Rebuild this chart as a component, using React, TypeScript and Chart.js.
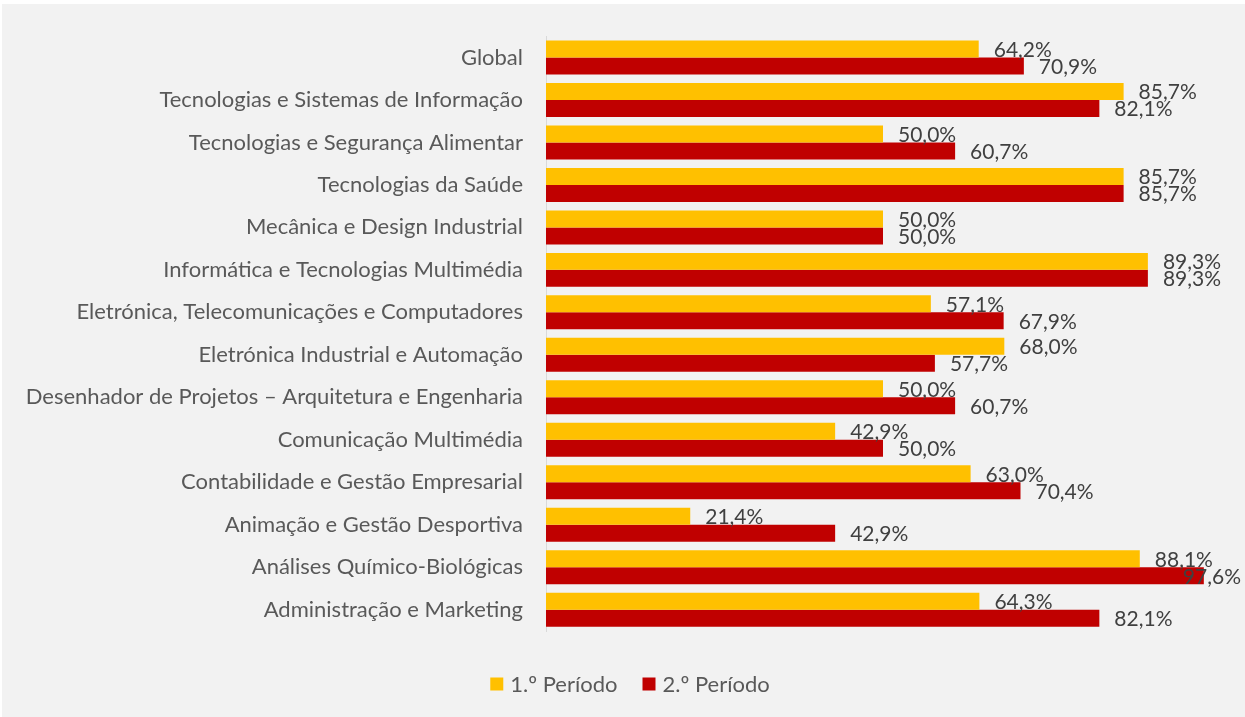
import React, { useEffect, useRef } from "react";
import { Chart, registerables } from "chart.js";

Chart.register(...registerables);

const categories = [
  "Global",
  "Tecnologias e Sistemas de Informação",
  "Tecnologias e Segurança Alimentar",
  "Tecnologias da Saúde",
  "Mecânica e Design Industrial",
  "Informática e Tecnologias Multimédia",
  "Eletrónica, Telecomunicações e Computadores",
  "Eletrónica Industrial e Automação",
  "Desenhador de Projetos – Arquitetura e Engenharia",
  "Comunicação Multimédia",
  "Contabilidade e Gestão Empresarial",
  "Animação e Gestão Desportiva",
  "Análises Químico-Biológicas",
  "Administração e Marketing",
];

const periodo1 = [64.2, 85.7, 50.0, 85.7, 50.0, 89.3, 57.1, 68.0, 50.0, 42.9, 63.0, 21.4, 88.1, 64.3];
const periodo2 = [70.9, 82.1, 60.7, 85.7, 50.0, 89.3, 67.9, 57.7, 60.7, 50.0, 70.4, 42.9, 97.6, 82.1];

const seriesNames = ["1.º Período", "2.º Período"];
const seriesColors = ["#FFC000", "#C00000"];

const FONT = "Lato, 'Open Sans', sans-serif";

const bgPlugin = {
  id: "bg",
  beforeDraw(chart: any) {
    const { ctx, width, height } = chart;
    ctx.save();
    ctx.fillStyle = "#ffffff";
    ctx.fillRect(0, 0, width, height);
    ctx.fillStyle = "#f2f2f2";
    ctx.fillRect(2, 4, width - 2, height - 4);
    ctx.restore();
  },
};

const labelPlugin = {
  id: "valueLabels",
  afterDatasetsDraw(chart: any) {
    const { ctx, width } = chart;
    ctx.save();
    ctx.font = `21px ${FONT}`;
    ctx.fillStyle = "#404040";
    ctx.textAlign = "left";
    ctx.textBaseline = "middle";
    chart.data.datasets.forEach((ds: any, di: number) => {
      const meta = chart.getDatasetMeta(di);
      meta.data.forEach((bar: any, i: number) => {
        const v = ds.data[i] as number;
        const txt = v.toFixed(1).replace(".", ",") + "%";
        const w = ctx.measureText(txt).width;
        const x = Math.min(bar.x + 15, width - 4 - w);
        ctx.fillText(txt, x, bar.y + 1);
      });
    });
    ctx.restore();
  },
};

const legendPlugin = {
  id: "customLegend",
  afterDraw(chart: any) {
    const { ctx } = chart;
    ctx.save();
    ctx.font = `22px ${FONT}`;
    ctx.textBaseline = "middle";
    ctx.textAlign = "left";
    const box = 13;
    const gapText = 7;
    const gapItem = 25;
    const names = chart.data.datasets.map((d: any) => d.label as string);
    const widths = names.map((n: string) => box + gapText + ctx.measureText(n).width);
    const total = widths.reduce((a: number, b: number) => a + b, 0) + gapItem * (names.length - 1);
    let x = 630 - total / 2;
    const cy = 684;
    names.forEach((n: string, i: number) => {
      ctx.fillStyle = chart.data.datasets[i].backgroundColor;
      ctx.fillRect(x, cy - box / 2, box, box);
      ctx.fillStyle = "#595959";
      ctx.fillText(n, x + box + gapText, cy + 1);
      x += widths[i] + gapItem;
    });
    ctx.restore();
  },
};

export default function App() {
  const ref = useRef<HTMLCanvasElement | null>(null);

  useEffect(() => {
    document.body.style.margin = "0";
    if (!ref.current) return;
    const chart = new Chart(ref.current, {
      type: "bar",
      data: {
        labels: categories,
        datasets: [
          {
            label: seriesNames[0],
            data: periodo1,
            backgroundColor: seriesColors[0],
            categoryPercentage: 0.8,
            barPercentage: 1,
          },
          {
            label: seriesNames[1],
            data: periodo2,
            backgroundColor: seriesColors[1],
            categoryPercentage: 0.8,
            barPercentage: 1,
          },
        ],
      },
      options: {
        indexAxis: "y",
        animation: false,
        responsive: false,
        maintainAspectRatio: false,
        devicePixelRatio: 1,
        layout: { padding: { left: 0, right: 25, top: 33, bottom: 86 } },
        plugins: {
          legend: { display: false },
          tooltip: { enabled: false },
        },
        scales: {
          x: {
            display: false,
            min: 0,
            max: 100,
          },
          y: {
            grid: { display: false, drawTicks: false },
            border: { display: true, color: "#d9d9d9", width: 1 },
            ticks: {
              autoSkip: false,
              padding: 23,
              color: "#595959",
              font: { family: FONT, size: 22 },
            },
            afterFit(scale: any) {
              scale.width = 546;
            },
          },
        },
      },
      plugins: [bgPlugin, labelPlugin, legendPlugin],
    });
    return () => chart.destroy();
  }, []);

  return (
    <div style={{ width: 1245, height: 717 }}>
      <canvas ref={ref} width={1245} height={717} style={{ display: "block" }} />
    </div>
  );
}
